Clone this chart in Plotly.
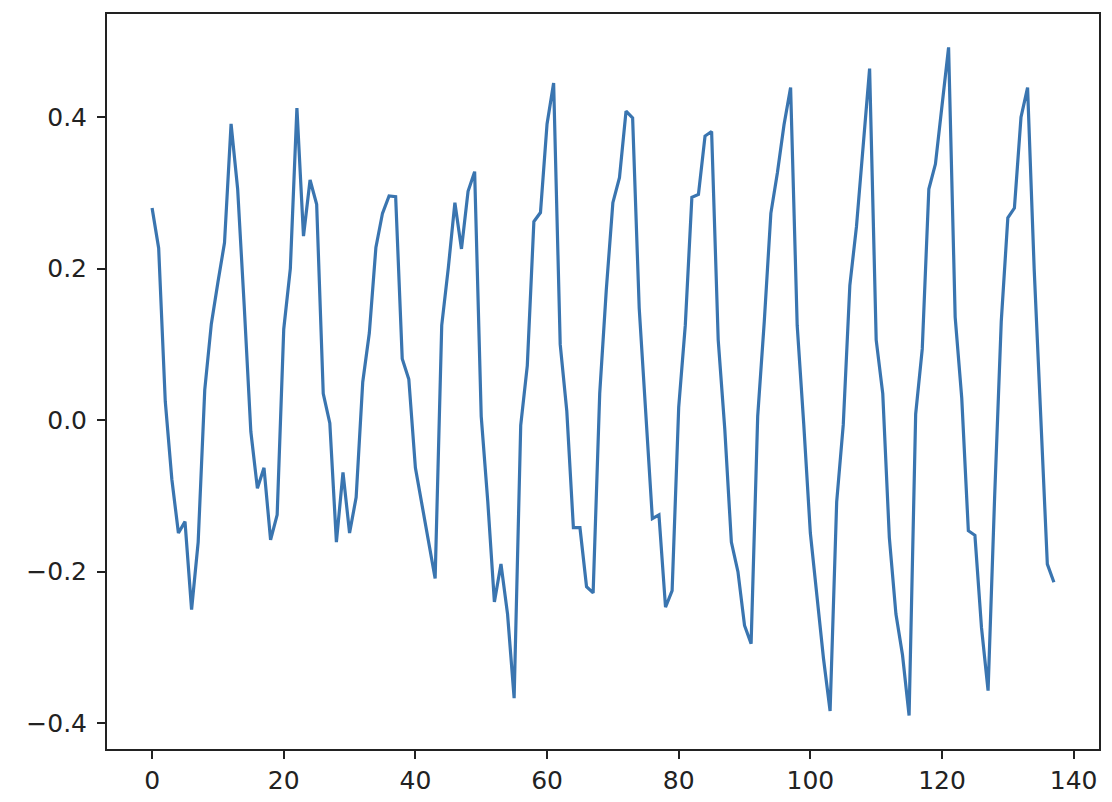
import plotly.graph_objects as go

values = [
    0.280, 0.227, 0.025, -0.078, -0.149, -0.134, -0.250, -0.161, 0.040, 0.127,
    0.182, 0.234, 0.391, 0.305, 0.150, -0.015, -0.090, -0.063, -0.158, -0.125,
    0.120, 0.200, 0.412, 0.243, 0.317, 0.285, 0.035, -0.004, -0.161, -0.069,
    -0.149, -0.102, 0.050, 0.115, 0.228, 0.273, 0.296, 0.295, 0.081, 0.054,
    -0.063, -0.110, -0.158, -0.209, 0.125, 0.201, 0.287, 0.226, 0.302, 0.328,
    0.005, -0.108, -0.240, -0.190, -0.256, -0.367, -0.007, 0.072, 0.262, 0.274,
    0.391, 0.445, 0.100, 0.012, -0.142, -0.142, -0.220, -0.228, 0.035, 0.172,
    0.287, 0.320, 0.408, 0.399, 0.148, 0.012, -0.130, -0.125, -0.247, -0.225,
    0.017, 0.125, 0.294, 0.298, 0.375, 0.381, 0.106, -0.012, -0.161, -0.200,
    -0.271, -0.295, 0.005, 0.130, 0.273, 0.327, 0.390, 0.439, 0.125, -0.006,
    -0.149, -0.232, -0.315, -0.384, -0.108, -0.006, 0.178, 0.255, 0.356, 0.464,
    0.106, 0.035, -0.155, -0.256, -0.310, -0.390, 0.008, 0.094, 0.305, 0.338,
    0.415, 0.492, 0.136, 0.029, -0.146, -0.152, -0.274, -0.357, -0.100, 0.130,
    0.267, 0.280, 0.400, 0.439, 0.200, 0.000, -0.190, -0.214,
]
x_index = list(range(len(values)))

x_ticks = [0, 20, 40, 60, 80, 100, 120, 140]
y_ticks = [-0.4, -0.2, 0.0, 0.2, 0.4]
y_tick_labels = ["\u22120.4", "\u22120.2", "0.0", "0.2", "0.4"]

fig = go.Figure()
fig.add_trace(go.Scatter(
    x=x_index, y=values, mode="lines",
    line=dict(color="#3a75b0", width=3.2),
    showlegend=False, hoverinfo="skip",
))

axis_common = dict(
    showgrid=False, zeroline=False, showline=True, mirror=True,
    linecolor="#222222", linewidth=2,
    ticks="outside", ticklen=8, tickwidth=2, tickcolor="#222222",
    tickfont=dict(family="DejaVu Sans", size=25, color="#222222"),
)

n = len(values) - 1
ymin, ymax = min(values), max(values)
ypad = (ymax - ymin) * 0.05
fig.update_layout(
    width=1104, height=794,
    margin=dict(l=99, r=13, t=4, b=53),
    paper_bgcolor="white", plot_bgcolor="white",
    xaxis=dict(range=[-0.05 * n, n * 1.05], tickvals=x_ticks, **axis_common),
    yaxis=dict(range=[ymin - ypad, ymax + ypad], tickvals=y_ticks,
               ticktext=y_tick_labels, ticklabelstandoff=5, **axis_common),
)

fig.write_html("out.html")
